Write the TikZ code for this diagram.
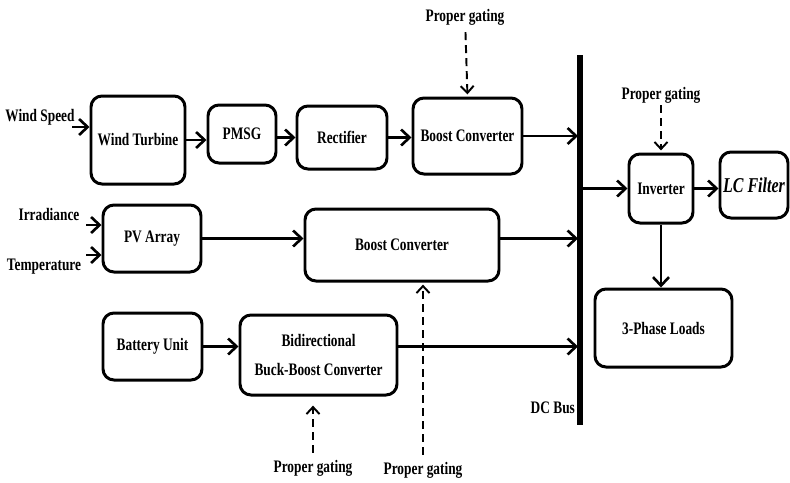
\documentclass[tikz,border=0pt]{standalone}
\usepackage{fontspec}
\setmainfont{Liberation Serif}[FakeStretch=0.76]
\usetikzlibrary{arrows.meta}

\begin{document}
\begin{tikzpicture}[x=0.2mm,y=-0.2mm,every node/.style={font=\bfseries},
    blk/.style={draw, rounded corners=2.2mm, line width=1.7pt, align=center, inner sep=1pt},
    arr/.style={line width=1.5pt, -{Straight Barb[length=1.7mm,width=3.2mm,line width=1.5pt]}},
    garr/.style={line width=1.1pt, dash pattern=on 1.6mm off 1mm, -{Straight Barb[length=1.4mm,width=2.6mm,line width=1.1pt,sep]}},
    lbl/.style={inner sep=1pt}]
    \useasboundingbox (0,0) rectangle (790,482);
    % wind branch
    \node[blk, minimum width=18.8mm, minimum height=17.6mm] (wt) at (138,140) {Wind Turbine};
    \node[blk, minimum width=13.6mm, minimum height=11.6mm] (pmsg) at (242,134) {PMSG};
    \node[blk, minimum width=18mm, minimum height=12.6mm] (rect) at (342,137.5) {Rectifier};
    \node[blk, minimum width=21.8mm, minimum height=15.2mm] (bc1) at (467.5,136) {Boost Converter};
    % pv branch
    \node[blk, minimum width=19.6mm, minimum height=13.4mm] (pv) at (152,238.5) {PV Array};
    \node[blk, minimum width=38.8mm, minimum height=14.4mm] (bc2) at (402,245) {Boost Converter};
    % battery branch
    \node[blk, minimum width=19.8mm, minimum height=13.4mm] (batt) at (152.5,346.5) {Battery Unit};
    \node[blk, minimum width=31.4mm, minimum height=16mm] (bdc) at (318.5,355) {Bidirectional\\[5pt]Buck-Boost Converter};
    % ac side
    \node[blk, minimum width=12.8mm, minimum height=13.8mm] (inv) at (661,188.5) {Inverter};
    \node[blk, minimum width=13.6mm, minimum height=13.2mm, font=\large\bfseries\itshape] (lcf) at (754,185) {LC Filter};
    \node[blk, minimum width=27.4mm, minimum height=15.6mm] (load) at (663.5,328) {3-Phase Loads};

    % labels
    \node[lbl] (ws) at (40,117) {Wind Speed};
    \node[lbl] (irr) at (49,214) {Irradiance};
    \node[lbl] (temp) at (44,267) {Temperature};
    \node[lbl] (g1) at (465,17) {Proper gating};
    \node[lbl] (g2) at (661,95) {Proper gating};
    \node[lbl] (g3) at (313,468) {Proper gating};
    \node[lbl] (g4) at (423,470) {Proper gating};
    \node[lbl, anchor=east] (dcb) at (577,408) {DC Bus};

    % dc bus
    \coordinate (bustop) at (580,55);
    \coordinate (busbot) at (580,425);
    \draw[line width=1.2mm] (bustop) -- (busbot);

    \coordinate (wsin) at (72,127);
    \coordinate (irrin) at (86,225);
    \coordinate (tempin) at (86,255);

    \draw[arr] (wsin) -- (wsin -| wt.west);
    \draw[arr] (wt.east) -- (wt.east -| pmsg.west);
    \draw[arr] (pmsg.east |- rect.west) -- (rect.west);
    \draw[arr] (rect.east) -- (rect.east -| bc1.west);
    \draw[arr, shorten >=0.4mm] (bc1.east) -- (bc1.east -| bustop);

    \draw[arr] (irrin) -- (irrin -| pv.west);
    \draw[arr] (tempin) -- (tempin -| pv.west);
    \draw[arr] (pv.east) -- (pv.east -| bc2.west);
    \draw[arr, shorten >=0.4mm] (bc2.east |- pv.east) -- (pv.east -| bustop);

    \draw[arr] (batt.east) -- (batt.east -| bdc.west);
    \draw[arr, shorten >=0.4mm] (bdc.east |- batt.east) -- (batt.east -| bustop);

    \draw[arr, shorten <=0.6mm] (inv.west -| bustop) -- (inv.west);
    \draw[arr] (inv.east) -- (inv.east -| lcf.west);
    \draw[arr] (inv.south) -- (inv.south |- load.north);

    % gating signals
    \draw[garr, shorten <=1mm] (g1) -- (bc1.north);
    \draw[garr] (g2) -- (inv.north);
    \draw[garr, shorten <=1mm, shorten >=1.4mm] (g3) -- (g3 |- bdc.south);
    \draw[garr, shorten <=1mm] (g4) -- (g4 |- bc2.south);
\end{tikzpicture}
\end{document}
